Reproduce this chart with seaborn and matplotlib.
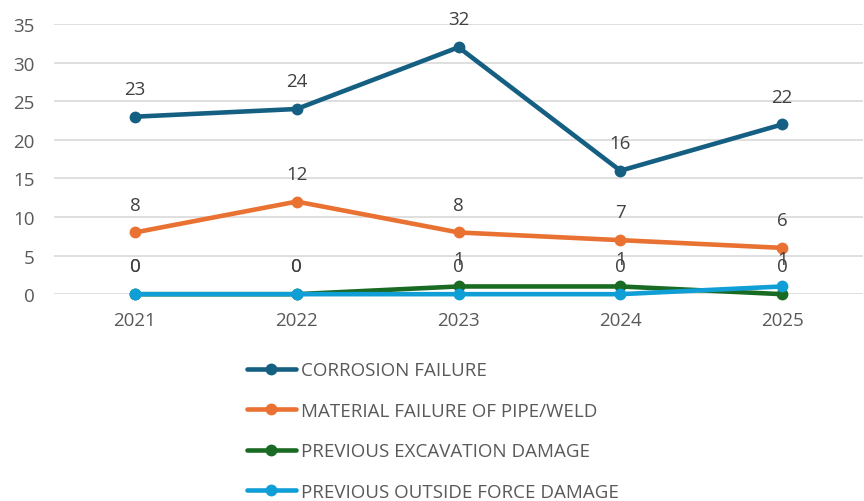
import pandas as pd
import seaborn as sns
import matplotlib.pyplot as plt

# Dados
anos = ["2021", "2022", "2023", "2024", "2025"]
corrosao = [23, 24, 32, 16, 22]
material = [8, 12, 8, 7, 6]
escavacao = [0, 0, 1, 1, 0]
forca_externa = [0, 0, 0, 0, 1]

series = {
    "CORROSION FAILURE": corrosao,
    "MATERIAL FAILURE OF PIPE/WELD": material,
    "PREVIOUS EXCAVATION DAMAGE": escavacao,
    "PREVIOUS OUTSIDE FORCE DAMAGE": forca_externa,
}
cores = ["#156082", "#E97132", "#196B24", "#0F9ED5"]

linhas = []
for nome, valores in series.items():
    for i, v in enumerate(valores):
        linhas.append({"pos": i, "Valor": v, "Serie": nome})
df = pd.DataFrame(linhas)

sns.set_style("white")
plt.rcParams["font.family"] = ["Open Sans", "DejaVu Sans"]

fig = plt.figure(figsize=(8.64, 5.02), dpi=100)
ax = fig.add_axes([0.0625, 0.412, 0.9365, 0.538])

sns.lineplot(data=df, x="pos", y="Valor", hue="Serie", palette=cores,
             marker="o", markersize=8.5, markeredgewidth=0, linewidth=3.3,
             ax=ax, legend=True)
for ln in ax.lines:
    ln.set_clip_on(False)

# rótulos de dados
for nome, valores in series.items():
    for i, v in enumerate(valores):
        ax.annotate(str(v), (i, v), xytext=(0, 20), textcoords="offset points",
                    ha="center", va="center", fontsize=13.5, color="#404040")

ax.set_xlim(-0.5, 4.5)
ax.set_ylim(0, 35)
ax.set_yticks(range(0, 36, 5))
ax.set_xticks(range(len(anos)))
ax.set_xticklabels(anos)
ax.set_xlabel("")
ax.set_ylabel("")
ax.yaxis.grid(True, color="#D9D9D9", linewidth=1.2)
ax.set_axisbelow(True)
for s in ax.spines.values():
    s.set_visible(False)
ax.tick_params(axis="both", length=0, labelsize=13.5, labelcolor="#595959")
ax.tick_params(axis="y", pad=14)
ax.tick_params(axis="x", pad=12)

handles, labels = ax.get_legend_handles_labels()
ax.legend_.remove()
fig.legend(handles, labels, loc="upper left", bbox_to_anchor=(0.286, 0.278),
           frameon=False, fontsize=13.5, labelcolor="#595959",
           handlelength=2.6, handletextpad=0.25, labelspacing=1.2,
           borderaxespad=0, borderpad=0)

fig.savefig("out.png", dpi=100)
